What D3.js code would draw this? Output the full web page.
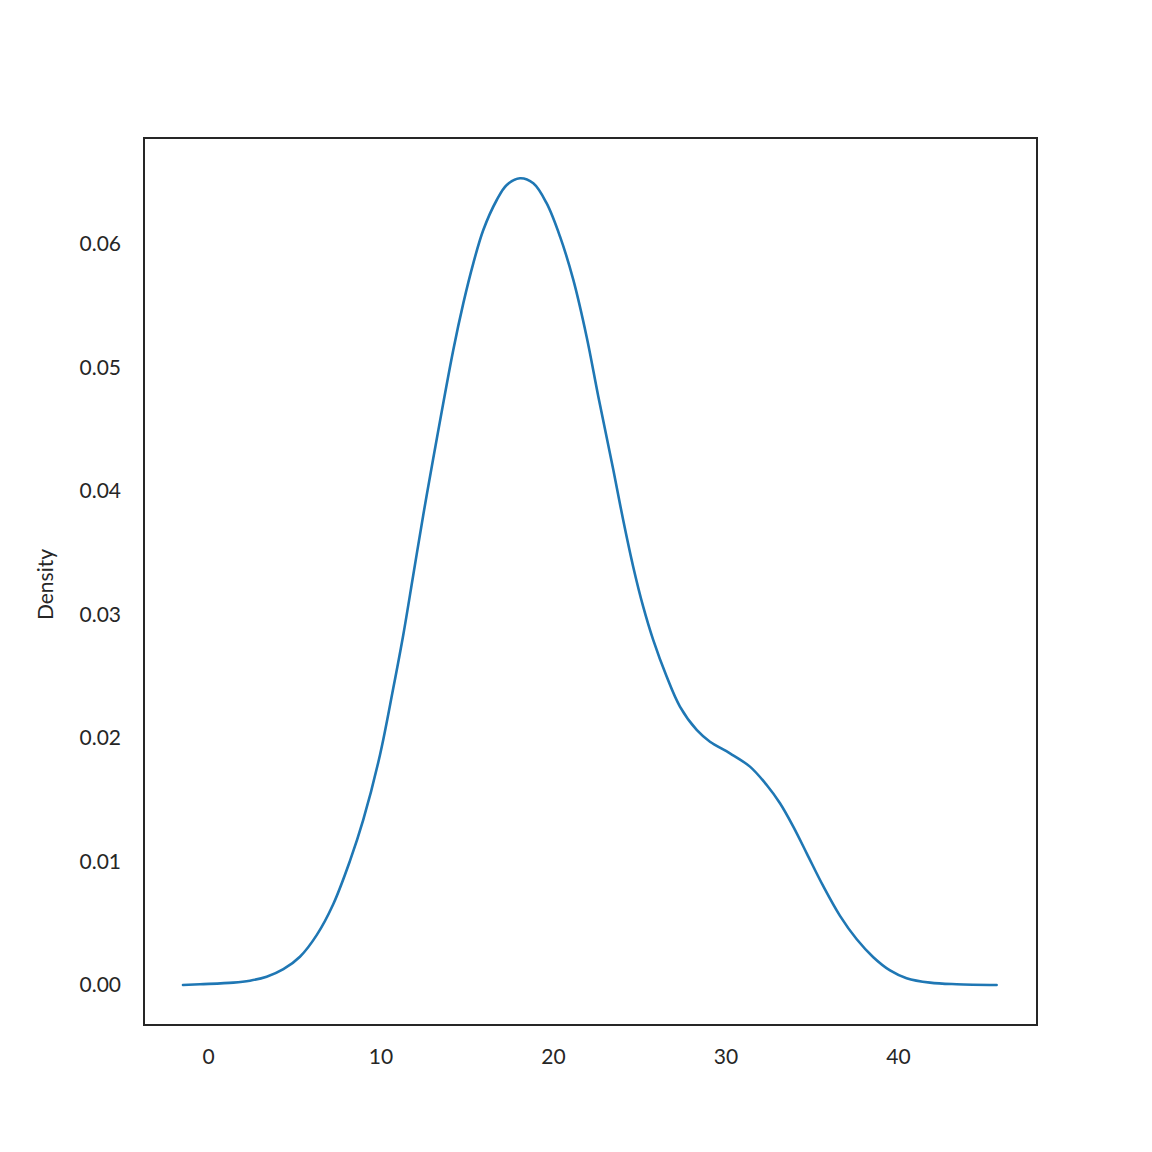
<!DOCTYPE html>
<html>
<head>
<meta charset="utf-8">
<script src="https://cdn.jsdelivr.net/npm/d3@7"></script>
<style>
  html, body { margin: 0; padding: 0; background: #fff; }
  svg { display: block; }
</style>
</head>
<body>
<svg id="chart" width="1152" height="1152"></svg>
<script>
// KDE curve samples
const xs = [-1.45, -0.46, 1.47, 2.43, 3.40, 4.37, 5.33, 6.30, 7.26, 8.23, 9.00, 9.97, 10.74, 11.32, 11.90, 12.48, 13.06, 14.22, 14.80, 15.38, 15.96, 16.74, 17.32, 18.09, 18.86, 19.63, 20.41, 21.18, 21.95, 22.63, 23.50, 24.07, 24.65, 25.23, 25.81, 26.59, 27.36, 28.33, 29.10, 30.26, 31.42, 32.39, 33.16, 33.93, 34.71, 35.67, 36.64, 37.61, 38.57, 39.54, 40.50, 41.86, 43.40, 45.72];
const densities = [0.0, 0.00006, 0.00019, 0.00035, 0.00067, 0.00128, 0.00229, 0.00404, 0.00654, 0.01005, 0.01336, 0.01862, 0.02402, 0.02834, 0.03320, 0.03806, 0.04265, 0.05142, 0.05519, 0.05843, 0.06113, 0.06356, 0.06478, 0.06532, 0.06491, 0.06330, 0.06059, 0.05709, 0.05249, 0.04763, 0.04170, 0.03765, 0.03387, 0.03063, 0.02794, 0.02497, 0.02254, 0.02065, 0.01970, 0.01876, 0.01768, 0.01619, 0.01471, 0.01282, 0.01066, 0.00800, 0.00560, 0.00370, 0.00225, 0.00118, 0.00055, 0.00019, 0.00006, 0.0];
const xTicks = [0, 10, 20, 30, 40];
const yTicks = [0.00, 0.01, 0.02, 0.03, 0.04, 0.05, 0.06];
const yLabel = "Density";

(function () {
const mL = 144, mR = 1037, mT = 138, mB = 1025;
const svg = d3.select("#chart");
const font = "Lato, 'Noto Sans', 'DejaVu Sans', sans-serif";
const fs = 21;

const x = d3.scaleLinear().domain([-3.71, 48.06]).range([mL, mR]);
const y = d3.scaleLinear().domain([-0.00324, 0.06858]).range([mB, mT]);

const xAxis = d3.axisBottom(x).tickValues(xTicks).tickSize(0).tickPadding(24).tickFormat(d3.format("d"));
const gx = svg.append("g").attr("transform", `translate(0,${mB})`).call(xAxis);
gx.select(".domain").remove();
gx.selectAll("text").attr("font-family", font).attr("font-size", fs).attr("fill", "#262626");

const yAxis = d3.axisLeft(y).tickValues(yTicks).tickSize(0).tickPadding(23).tickFormat(d3.format(".2f"));
const gy = svg.append("g").attr("transform", `translate(${mL},0)`).call(yAxis);
gy.select(".domain").remove();
gy.selectAll("text").attr("font-family", font).attr("font-size", fs).attr("fill", "#262626");

svg.append("text")
  .attr("transform", `translate(53,${(mT + mB) / 2 + 3}) rotate(-90)`)
  .attr("text-anchor", "middle")
  .attr("font-family", font).attr("font-size", fs).attr("fill", "#262626")
  .text(yLabel);

const pts = xs.map((v, i) => [v, densities[i]]);
const line = d3.line().x(d => x(d[0])).y(d => y(d[1])).curve(d3.curveCatmullRom.alpha(0.5));
svg.append("path").datum(pts)
  .attr("d", line)
  .attr("fill", "none")
  .attr("stroke", "#1f77b4")
  .attr("stroke-width", 2.6)
  .attr("stroke-linecap", "round");

svg.append("rect")
  .attr("x", mL).attr("y", mT)
  .attr("width", mR - mL).attr("height", mB - mT)
  .attr("fill", "none").attr("stroke", "#262626").attr("stroke-width", 2);
})();
</script>
</body>
</html>
